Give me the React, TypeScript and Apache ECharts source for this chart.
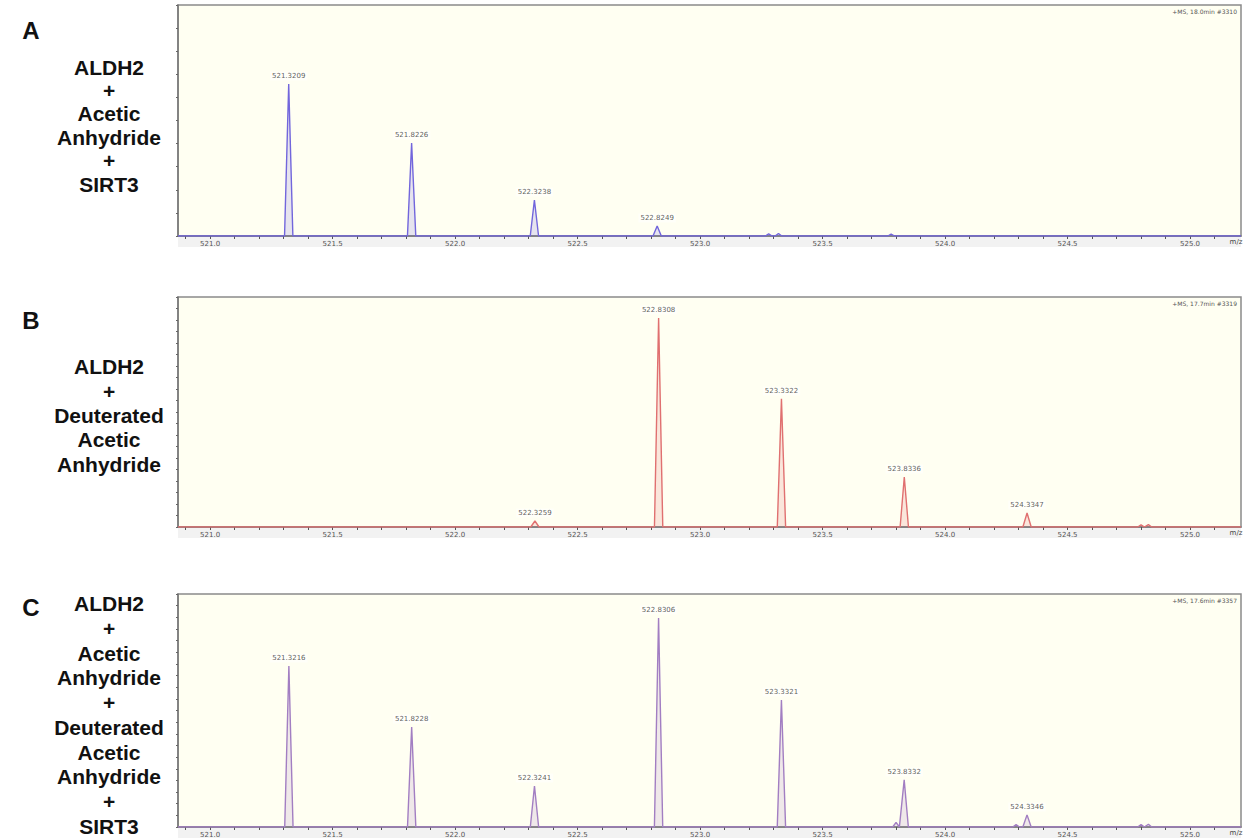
import React, { useEffect, useRef } from "react";
import * as echarts from "echarts";

// ---- Data ----
// Intensities are in % of each panel's full height
const peaksA_mz = [521.3209, 521.8226, 522.3238, 522.8249];
const peaksA_int = [65.8, 40.3, 15.6, 4.3];
const minorA_mz = [523.28, 523.32, 523.78];
const minorA_int = [0.9, 1.1, 0.8];

const peaksB_mz = [522.3259, 522.8308, 523.3322, 523.8336, 524.3347];
const peaksB_int = [2.6, 90.9, 55.7, 21.7, 6.1];
const minorB_mz = [524.8, 524.83];
const minorB_int = [0.9, 1.0];

const peaksC_mz = [521.3216, 521.8228, 522.3241, 522.8306, 523.3321, 523.8332, 524.3346];
const peaksC_int = [69.1, 42.9, 17.6, 89.7, 54.5, 20.2, 5.2];
const minorC_mz = [523.8, 524.29, 524.8, 524.83];
const minorC_int = [2.0, 1.0, 1.0, 1.2];

const xLabelValues = [521.0, 521.5, 522.0, 522.5, 523.0, 523.5, 524.0, 524.5, 525.0];
const xTickValues = [
  520.9, 521.0, 521.1, 521.2, 521.3, 521.4, 521.5, 521.6, 521.7, 521.8, 521.9,
  522.0, 522.1, 522.2, 522.3, 522.4, 522.5, 522.6, 522.7, 522.8, 522.9,
  523.0, 523.1, 523.2, 523.3, 523.4, 523.5, 523.6, 523.7, 523.8, 523.9,
  524.0, 524.1, 524.2, 524.3, 524.4, 524.5, 524.6, 524.7, 524.8, 524.9,
  525.0, 525.1,
];

const scanInfo = ["+MS, 18.0min #3310", "+MS, 17.7min #3319", "+MS, 17.6min #3357"];
const panelLetters = ["A", "B", "C"];
const panelTexts = [
  ["ALDH2", "+", "Acetic", "Anhydride", "+", "SIRT3"],
  ["ALDH2", "+", "Deuterated", "Acetic", "Anhydride"],
  ["ALDH2", "+", "Acetic", "Anhydride", "+", "Deuterated", "Acetic", "Anhydride", "+", "SIRT3"],
];

const X_MIN = 520.869;
const X_MAX = 525.208;
const HALF_W = 0.017;

function buildSpectrum(mz: number[], ints: number[], minMz: number[], minInt: number[]) {
  const all: { mz: number; h: number; major: boolean }[] = [];
  mz.forEach((m, i) => all.push({ mz: m, h: ints[i], major: true }));
  minMz.forEach((m, i) => all.push({ mz: m, h: minInt[i], major: false }));
  all.sort((a, b) => a.mz - b.mz);
  const data: any[] = [[X_MIN, 0]];
  all.forEach((p) => {
    const w = p.major ? HALF_W : HALF_W * 0.8;
    data.push([p.mz - w, 0]);
    data.push([p.mz, p.h]);
    data.push([p.mz + w, 0]);
  });
  data.push([X_MAX, 0]);
  return data;
}

const grids = [
  { top: 5, height: 231 },
  { top: 297, height: 230 },
  { top: 594, height: 233 },
];
const colors = ["#7266dc", "#e07070", "#a27ec2"];
const fills = ["rgba(114,102,220,0.25)", "rgba(224,112,112,0.25)", "rgba(162,126,194,0.25)"];
const yIntervals = [10, 5, 5];

export default function App() {
  const ref = useRef<HTMLDivElement>(null);
  useEffect(() => {
    if (!ref.current) return;
    const chart = echarts.init(ref.current, undefined, { renderer: "svg" });
    const peakSets = [
      [peaksA_mz, peaksA_int, minorA_mz, minorA_int],
      [peaksB_mz, peaksB_int, minorB_mz, minorB_int],
      [peaksC_mz, peaksC_int, minorC_mz, minorC_int],
    ];
    const graphics: any[] = [];
    grids.forEach((g, i) => {
      const bottom = g.top + g.height;
      graphics.push({
        type: "rect",
        shape: { x: 178, y: bottom + 1, width: 1063, height: 10 },
        style: { fill: "#f2f2f2" },
        z: -1,
      });
      graphics.push({
        type: "text",
        x: 1237,
        y: g.top + 3,
        style: {
          text: scanInfo[i],
          fontSize: 6,
          fill: "#555",
          align: "right",
          verticalAlign: "top",
          fontFamily: "DejaVu Sans, sans-serif",
        },
        z: 10,
      });
      graphics.push({
        type: "text",
        x: 1236,
        y: bottom + 6,
        style: {
          text: "m/z",
          fontSize: 7,
          fill: "#444",
          align: "center",
          verticalAlign: "middle",
          fontFamily: "DejaVu Sans, sans-serif",
        },
        z: 10,
      });
    });
    const letterY = [30, 320, 607];
    const blockY = [125.5, 415.5, 715];
    const lh = [23.4, 24.3, 24.7];
    panelLetters.forEach((L, i) => {
      graphics.push({
        type: "text",
        x: 31,
        y: letterY[i],
        style: {
          text: L,
          fontSize: 24,
          fontWeight: "bold",
          fill: "#111",
          align: "center",
          verticalAlign: "middle",
          fontFamily: "Liberation Sans, Arial, sans-serif",
        },
      });
      graphics.push({
        type: "text",
        x: 109,
        y: blockY[i],
        style: {
          text: panelTexts[i].join("\n"),
          fontSize: 21,
          lineHeight: lh[i],
          fontWeight: "bold",
          fill: "#111",
          align: "center",
          verticalAlign: "middle",
          fontFamily: "Liberation Sans, Arial, sans-serif",
        },
      });
    });

    const series: any[] = [];
    peakSets.forEach((s: any, i) => {
      series.push({
        type: "line",
        xAxisIndex: i,
        yAxisIndex: i,
        data: buildSpectrum(s[0], s[1], s[2], s[3]),
        symbol: "none",
        showSymbol: false,
        lineStyle: { color: colors[i], width: 1.4 },
        areaStyle: { color: fills[i], origin: "start" },
        z: 3,
      });
      series.push({
        type: "scatter",
        xAxisIndex: i,
        yAxisIndex: i,
        data: (s[0] as number[]).map((m, k) => [m, s[1][k]]),
        symbol: "circle",
        symbolSize: 1,
        itemStyle: { color: "rgba(0,0,0,0)" },
        label: {
          show: true,
          position: "top",
          distance: 3,
          formatter: (p: any) => (p.value[0] as number).toFixed(4),
          fontSize: 7,
          color: "#333",
          fontFamily: "DejaVu Sans, sans-serif",
          backgroundColor: "rgba(255,255,255,0.7)",
          padding: [1, 2],
        },
        z: 5,
      });
    });

    chart.setOption({
      animation: false,
      backgroundColor: "#ffffff",
      grid: grids.map((g) => ({
        left: 178,
        right: 6,
        top: g.top,
        height: g.height,
        show: true,
        backgroundColor: "#fffff2",
        borderColor: "#8a8a8a",
        borderWidth: 1.5,
      })),
      xAxis: grids.map((_, i) => ({
        type: "value",
        gridIndex: i,
        min: X_MIN,
        max: X_MAX,
        axisLine: { show: true, onZero: false, lineStyle: { color: "#777", width: 1.5 } },
        axisTick: {
          show: true,
          customValues: xTickValues,
          length: 3,
          lineStyle: { color: "#555" },
        },
        axisLabel: {
          show: true,
          customValues: xLabelValues,
          formatter: (v: number) => v.toFixed(1),
          fontSize: 7,
          color: "#555",
          margin: 4,
          fontFamily: "DejaVu Sans, sans-serif",
        },
        splitLine: { show: false },
      })),
      yAxis: grids.map((_, i) => ({
        type: "value",
        gridIndex: i,
        min: 0,
        max: 100,
        interval: yIntervals[i],
        axisLine: { show: true, lineStyle: { color: "#777", width: 1.5 } },
        axisTick: { show: true, length: 2, lineStyle: { color: "#666" } },
        axisLabel: { show: false },
        splitLine: { show: false },
      })),
      series,
      graphic: graphics,
    });
    return () => chart.dispose();
  }, []);
  return (
    <div
      ref={ref}
      style={{ position: "fixed", left: 0, top: 0, width: 1247, height: 839 }}
    />
  );
}
